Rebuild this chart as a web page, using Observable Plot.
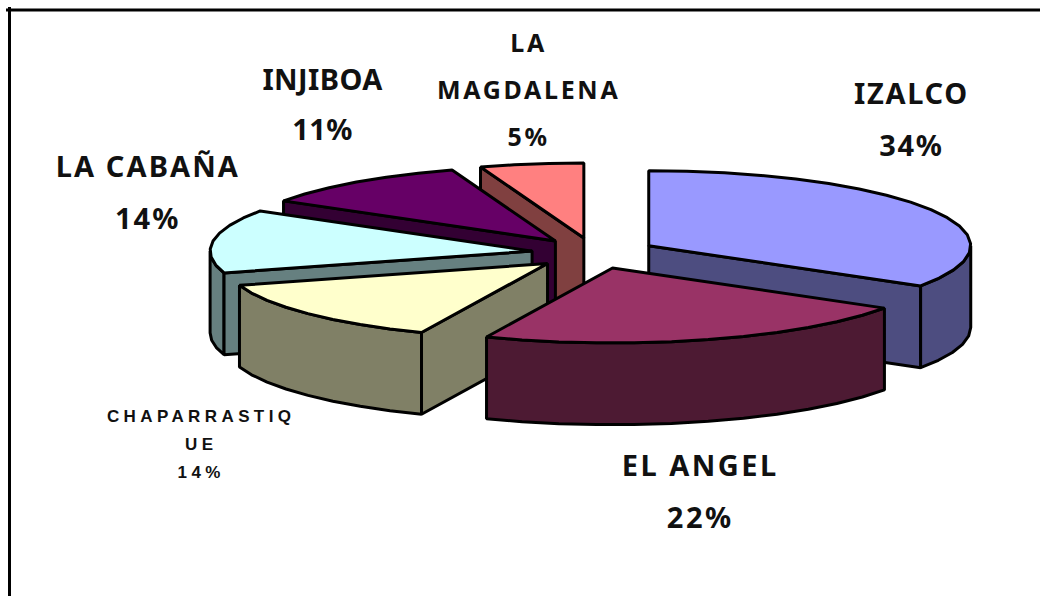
<!DOCTYPE html>
<html><head><meta charset="utf-8">
<style>html,body{margin:0;padding:0;background:#fff;overflow:hidden}svg{display:block}</style>
<script src="https://cdn.jsdelivr.net/npm/d3@7"></script>
<script src="https://cdn.jsdelivr.net/npm/@observablehq/plot@0.6"></script>
</head><body><div id="chart"></div>
<script>
// Data
const categories = ["IZALCO", "EL ANGEL", "CHAPARRASTIQ\nUE", "LA CABAÑA", "INJIBOA", "LA\nMAGDALENA"];
const shares = [34, 22.4, 13.9, 13.7, 10.8, 5.2];
// Styles
const topColors = ["#9999FF", "#993366", "#FFFFCC", "#CCFFFF", "#660066", "#FF8080"];
const sideColors = ["#4D4D80", "#4D1A33", "#808066", "#668080", "#330033", "#804040"];
// Layout
const drawOrder = [5, 4, 3, 0, 2, 1];
const explode = 0.2, depth = 1.09;
const labelX = [0.986, 0.33, -1.22, -1.386, -0.843, -0.203];
const labelY = [1.86, -3.10, -2.51, 0.89, 2.06, 2.26];
const labelSize = [29, 29, 17, 29, 29, 25];
const labelLead = [1.77, 1.77, 1.65, 1.77, 1.74, 1.88];
const labelSpacing = [1.7, 2.5, 4.4, 2.1, 0.4, 2.7];
const labelFont = ["Noto Sans", "Noto Sans", "Liberation Sans", "Noto Sans", "Noto Sans", "Noto Sans"];

const TAU = 2 * Math.PI, total = d3.sum(shares);
const polar = (t, r, c) => [c[0] + r * Math.sin(t), c[1] + r * Math.cos(t)];
const down = ([x, y]) => [x, y - depth];
const toPts = (arr) => arr.map(([x, y]) => ({x, y}));

let cum = 0;
const slices = shares.map((v, i) => {
  const a0 = cum / total * TAU; cum += v; const a1 = cum / total * TAU;
  const mid = (a0 + a1) / 2;
  return {i, a0, a1, c: [explode * Math.sin(mid) * 0.97, explode * Math.cos(mid) * 1.03]};
});
const arc = (c, a0, a1) => {
  const n = Math.max(2, Math.ceil((a1 - a0) / (7 * Math.PI / 180)));
  return d3.range(n + 1).map(k => polar(a0 + (a1 - a0) * k / n, 1, c));
};

const faces = [];
for (const o of drawOrder) {
  const {i, a0, a1, c} = slices[o];
  const add = (poly, color) => faces.push({pts: toPts(poly), color});
  const wall = (a) => { const p = polar(a, 1, c); add([c, p, down(p), down(c)], sideColors[i]); };
  if (Math.sin(a1) > 1e-6) wall(a1);
  const lo = Math.max(a0, Math.PI / 2), hi = Math.min(a1, 3 * Math.PI / 2);
  if (hi > lo) { const r = arc(c, lo, hi); add([...r, ...r.slice().reverse().map(down)], sideColors[i]); }
  if (Math.sin(a0) < -1e-6) wall(a0);
  add([c, ...arc(c, a0, a1)], topColors[i]);
}

const labelMarks = categories.map((name, i) =>
  Plot.text([{x: labelX[i], y: labelY[i], t: `${name}\n${Math.round(shares[i])}%`}], {
    x: "x", y: "y", text: "t", fill: "#111", fontFamily: labelFont[i], fontWeight: "bold",
    fontSize: labelSize[i], lineHeight: labelLead[i], textAnchor: "middle", lineAnchor: "middle",
    render(index, scales, values, dims, ctx, next) {
      const g = next(index, scales, values, dims, ctx);
      g.style.letterSpacing = labelSpacing[i] + "px";
      return g;
    }
  }));

const chart = Plot.plot({
  width: 1040, height: 596, margin: 0,
  x: {domain: [-1, 1], range: [271.5, 915.5], axis: null},
  y: {domain: [-1, 1], range: [327.7, 177.7], axis: null},
  marks: [
    Plot.frame({anchor: "top", stroke: "#000", strokeWidth: 3, insetTop: 9.5, insetLeft: 7}),
    Plot.frame({anchor: "left", stroke: "#000", strokeWidth: 3, insetLeft: 9, insetTop: 8}),
    ...faces.map(f => Plot.line(f.pts, {x: "x", y: "y", fill: f.color, stroke: "#000", strokeWidth: 3,
      strokeLinejoin: "miter", curve: "linear-closed"})),
    ...labelMarks
  ]
});
document.getElementById("chart").append(chart);
</script></body></html>
